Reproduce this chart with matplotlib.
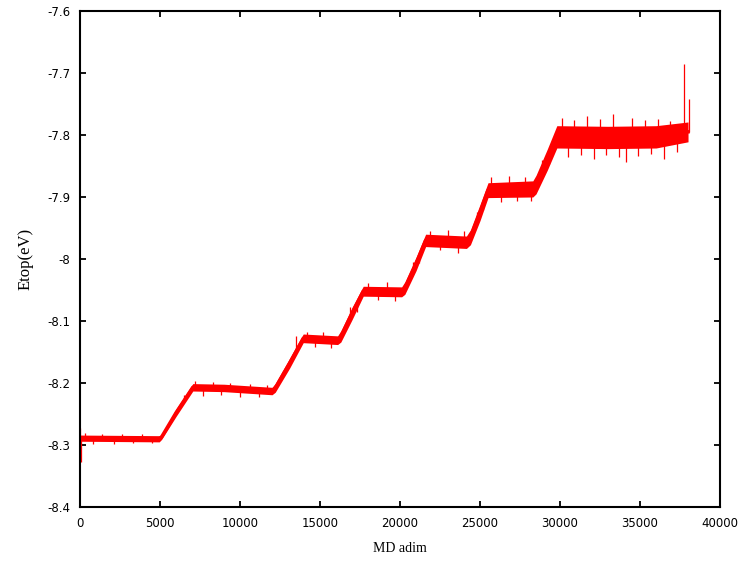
import numpy as np
import matplotlib
matplotlib.use("Agg")
import matplotlib.pyplot as plt

# knots of the trace: step (x), mean energy, noise half-width
steps = [0, 4950, 5100, 6000, 7050, 9000, 12000, 12200, 13100, 13950,
         16100, 16300, 17000, 17700, 20100, 20300, 21000, 21600, 24150,
         24400, 25000, 25500, 28300, 28500, 29200, 29800, 33000, 36000,
         38000]
etop = [-8.289, -8.290, -8.287, -8.248, -8.207, -8.208, -8.213, -8.208,
        -8.168, -8.128, -8.131, -8.125, -8.088, -8.052, -8.053, -8.047,
        -8.008, -7.970, -7.973, -7.965, -7.925, -7.889, -7.887, -7.880,
        -7.840, -7.803, -7.804, -7.803, -7.795]
noise = [0.005, 0.005, 0.004, 0.006, 0.006, 0.006, 0.006, 0.007,
         0.008, 0.007, 0.007, 0.009, 0.010, 0.008, 0.008, 0.010,
         0.011, 0.010, 0.010, 0.012, 0.013, 0.012, 0.013, 0.015,
         0.017, 0.018, 0.018, 0.018, 0.016]

# spikes sticking out of the noisy band: position and tip value
spike_x = [0, 30, 300, 800, 1400, 2100, 2600, 3300, 3900, 4500,
           5600, 6500, 7200, 7700, 8300, 8800, 9400, 10000, 10600, 11200,
           11700, 12700, 13500, 14200, 14700, 15200, 15700, 16900, 17300,
           18000, 18600, 19200, 19700, 20800, 21200, 21900, 22500, 23000,
           23600, 24000, 24800, 25200, 25700, 26300, 26800, 27300, 27800,
           28200, 28900, 29300, 29500, 30100, 30500, 30900, 31300, 31700,
           32100, 32500, 32900, 33300, 33700, 34100, 34500, 34900, 35300,
           35700, 36100, 36500, 36900, 37300, 37750, 38050]
spike_y = [-8.272, -8.328, -8.281, -8.298, -8.282, -8.299, -8.283, -8.297,
           -8.283, -8.297, -8.262, -8.220, -8.197, -8.221, -8.199, -8.219,
           -8.200, -8.222, -8.202, -8.223, -8.203, -8.180, -8.125, -8.117,
           -8.142, -8.118, -8.143, -8.078, -8.086, -8.038, -8.066, -8.037,
           -8.067, -8.005, -8.006, -7.955, -7.986, -7.953, -7.990, -7.955,
           -7.924, -7.921, -7.868, -7.908, -7.866, -7.907, -7.868, -7.906,
           -7.840, -7.846, -7.810, -7.772, -7.835, -7.776, -7.833, -7.770,
           -7.838, -7.775, -7.832, -7.766, -7.836, -7.843, -7.772, -7.834,
           -7.776, -7.831, -7.775, -7.838, -7.778, -7.827, -7.686, -7.742]

x_ticks = [0, 5000, 10000, 15000, 20000, 25000, 30000, 35000, 40000]
y_ticks = [-8.4, -8.3, -8.2, -8.1, -8.0, -7.9, -7.8, -7.7, -7.6]
y_labels = ["-8.4", "-8.3", "-8.2", "-8.1", "-8", "-7.9", "-7.8", "-7.7", "-7.6"]

plt.rcParams["axes.unicode_minus"] = False
plt.rcParams["font.family"] = "DejaVu Sans"

fig = plt.figure(figsize=(7.41, 5.61), dpi=100)
ax = fig.add_axes([0.108, 0.0963, 0.8637, 0.8841])

x = np.array(steps, dtype=float)
mid = np.array(etop)
hw = np.array(noise)
red = "#ff0000"
ax.fill_between(x, mid - hw, mid + hw, color=red, linewidth=0)
ax.plot(x, mid, color=red, lw=2.5)

# spikes from the band centre to their tips
base = np.interp(spike_x, x, mid)
ax.vlines(spike_x, base, spike_y, color=red, lw=0.9)

ax.set_xlim(0, 40000)
ax.set_ylim(-8.4, -7.6)
ax.set_xticks(x_ticks)
ax.set_yticks(y_ticks)
ax.set_yticklabels(y_labels)
ax.tick_params(direction="in", length=4, width=1.3, top=True, right=True,
               labelsize=8.5, colors="black", pad=7)
for sp in ax.spines.values():
    sp.set_linewidth(1.5)

ax.set_xlabel("MD adim", family="Liberation Serif", fontsize=10, labelpad=9)
ax.set_ylabel("Etop(eV)", family="Liberation Serif", fontsize=12, labelpad=10)

fig.savefig("out.png", dpi=100)
